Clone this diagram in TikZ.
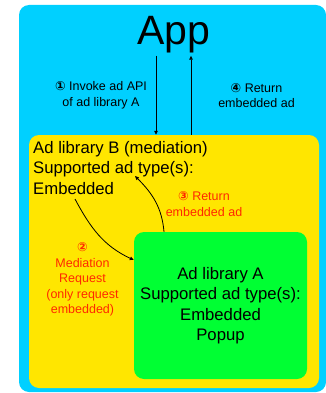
\documentclass[tikz,border=0pt]{standalone}
\usepackage{fontspec}
\setmainfont{Liberation Sans}
\newfontfamily\circfont{DejaVu Sans}
\usetikzlibrary{arrows.meta}

\definecolor{appblue}{RGB}{0,208,255}
\definecolor{libyellow}{RGB}{255,230,0}
\definecolor{libgreen}{RGB}{0,255,51}
\definecolor{stepred}{RGB}{255,40,0}
\newcommand{\circnum}[1]{{\circfont\bfseries #1}}

\tikzset{
  box/.style={rounded corners=10pt, inner sep=0pt},
  bigtext/.style={font=\fontsize{16.7}{20.5}\selectfont},
  smalltext/.style={font=\fontsize{12.5}{15.5}\selectfont, align=center},
  arr/.style={-{Triangle[length=4pt,width=3.5pt]}, line width=0.8pt},
}

\begin{document}
\begin{tikzpicture}[x=1pt,y=1pt]
    \useasboundingbox (0,0) rectangle (326,-393);
    \node[box, fill=appblue, minimum width=307pt, minimum height=387pt] (appbox) at (172.5,-198.5) {};
    \node[box, fill=libyellow, minimum width=290pt, minimum height=253pt] (libB) at (174,-261.5) {};
    \node[box, fill=libgreen, minimum width=173pt, minimum height=147pt, bigtext, align=center] (libA) at (220.5,-305.5) {Ad library A\\Supported ad type(s):\\Embedded\\Popup};
    \node[font=\fontsize{41}{41}\selectfont, anchor=base, inner sep=2pt] (app) at (173.5,-45) {App};
    \node[bigtext, align=left, anchor=north west, inner sep=0pt] (libBtxt) at (33,-141) {Ad library B (mediation)\\Supported ad type(s):\\Embedded};
    \coordinate (req) at (75,-199);
    \coordinate (ret) at (135,-176);
    \draw[arr] ([xshift=-17.5pt]app.south) -- ([xshift=-17.5pt]app.south |- libB.north);
    \draw[arr] ([xshift=17.5pt]app.south |- libB.north) -- ([xshift=17.5pt]app.south);
    \draw[arr] (req) to[out=-62, in=155] ([yshift=45.5pt]libA.west);
    \draw[arr] ([xshift=-56.5pt]libA.north) to[out=95, in=-45] (ret);
    \node[smalltext] (step1) at (101,-95.5) {\circnum{①} Invoke ad API\\of ad library A};
    \node[smalltext] (step4) at (256.5,-95.5) {\circnum{④} Return\\embedded ad};
    \node[smalltext, text=stepred] (step3) at (204,-204) {\circnum{③} Return\\embedded ad};
    \node[smalltext, text=stepred] (step2) at (82.5,-279.5) {\circnum{②}\\Mediation\\Request\\(only request\\embedded)};
\end{tikzpicture}
\end{document}
